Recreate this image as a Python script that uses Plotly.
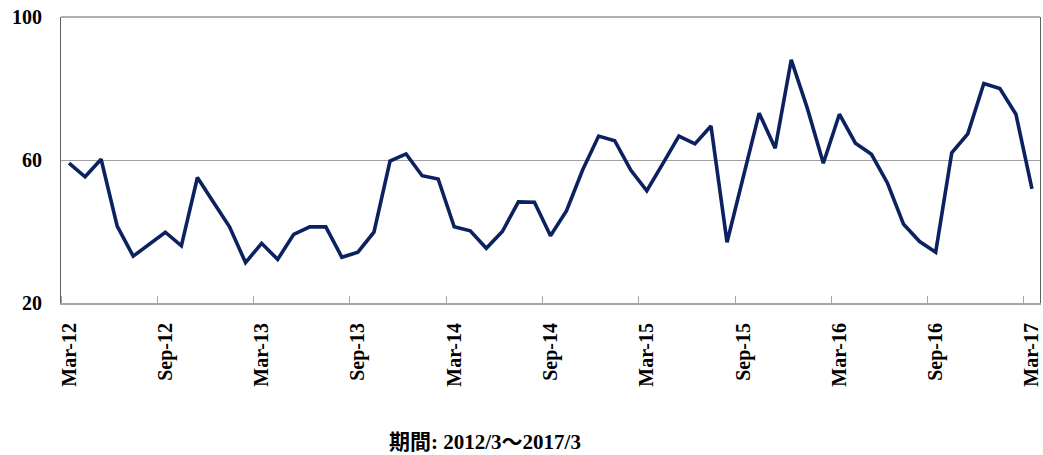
import plotly.graph_objects as go

months = []
for y in range(2012, 2018):
    for m in ["Jan", "Feb", "Mar", "Apr", "May", "Jun", "Jul", "Aug", "Sep", "Oct", "Nov", "Dec"]:
        months.append(f"{m}-{str(y)[2:]}")
months = months[2:2 + 61]  # Mar-12 .. Mar-17

values = [59.1, 55.3, 60.2, 41.5, 33.1, 36.5, 39.8, 36.0, 55.1, 48.2,
          41.3, 31.3, 36.7, 32.2, 39.2, 41.3, 41.3, 32.8, 34.2, 39.8,
          59.7, 61.7, 55.6, 54.7, 41.3, 40.2, 35.3, 40.0, 48.3, 48.2,
          38.8, 45.8, 57.2, 66.7, 65.4, 57.2, 51.4, 59.0, 66.7, 64.5,
          69.5, 37.0, 55.0, 73.1, 63.3, 88.0, 74.5, 59.1, 72.8, 64.7,
          61.6, 53.5, 42.0, 37.2, 34.2, 62.0, 67.3, 81.4, 80.0, 72.8,
          51.9]

tick_idx = list(range(0, 61, 6))
tick_labels = [months[i] for i in tick_idx]
y_ticks = [20, 60, 100]
title_text = "期間: 2012/3～2017/3"

font_fam = "Liberation Serif, Times New Roman, Noto Sans CJK JP, serif"

fig = go.Figure()
fig.add_trace(go.Scatter(
    x=list(range(len(values))), y=values, mode="lines",
    line=dict(color="#0c2260", width=3.6),
    hoverinfo="skip", showlegend=False,
))

fig.update_layout(
    width=1043, height=455,
    margin=dict(l=61, r=1, t=17, b=152),
    paper_bgcolor="white", plot_bgcolor="white",
    font=dict(family=font_fam, size=20, color="black"),
    xaxis=dict(
        range=[-0.5, 60.5],
        tickmode="array", tickvals=tick_idx, ticktext=tick_labels,
        tickangle=-90, ticks="", showgrid=False, zeroline=False,
        showline=True, linecolor="#a6a6a6", linewidth=2,
        tickfont=dict(family=font_fam, size=20, color="black", weight="bold"),
        ticklabelstandoff=10, ticklabeloverflow="allow",
        minor=dict(tickmode="linear", tick0=-0.5, dtick=6, ticks="inside",
                   ticklen=7, tickcolor="#a6a6a6", tickwidth=1, showgrid=False),
    ),
    yaxis=dict(
        range=[20, 100],
        tickmode="array", tickvals=y_ticks, ticks="",
        showgrid=True, gridcolor="#a0a0a0", gridwidth=1, zeroline=False,
        showline=True, linecolor="#606060", linewidth=1, mirror=True,
        tickfont=dict(family=font_fam, size=20, color="black", weight="bold"),
        ticklabelstandoff=14,
    ),
    shapes=[dict(type="line", xref="paper", yref="paper", x0=0, x1=1, y0=1, y1=1,
                 line=dict(color="#606060", width=1))],
    annotations=[dict(
        text=title_text, xref="paper", yref="paper", x=0.433, y=-0.486,
        xanchor="center", yanchor="middle", showarrow=False,
        font=dict(family=font_fam, size=21, color="black", weight="bold"),
    )],
)

fig.write_html("out.html")
